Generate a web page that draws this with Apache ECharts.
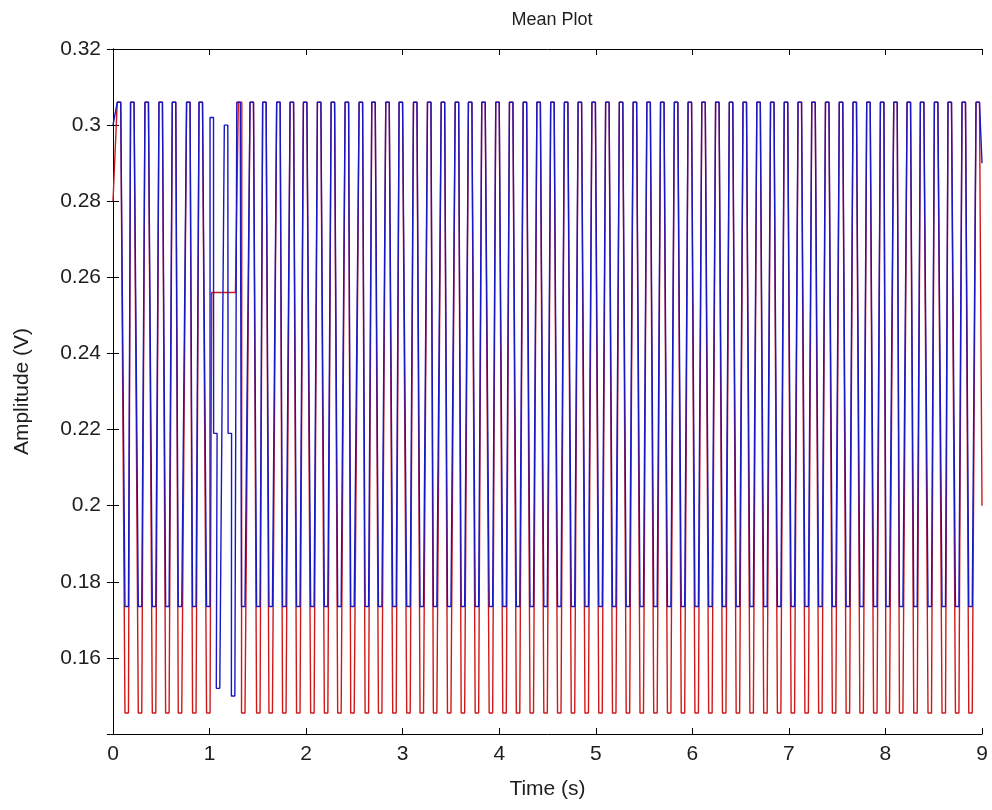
<!DOCTYPE html>
<html><head><meta charset="utf-8">
<script src="https://cdn.jsdelivr.net/npm/echarts@6/dist/echarts.min.js"></script>
<style>html,body{margin:0;padding:0;background:#fff}#c{width:992px;height:810px}</style>
</head><body><div id="c"></div>
<script>
// ---- data ----
const titleText = 'Mean Plot';
const xName = 'Time (s)';
const yName = 'Amplitude (V)';
const xTicks = [0, 1, 2, 3, 4, 5, 6, 7, 8, 9];
const yTicks = [0.16, 0.18, 0.2, 0.22, 0.24, 0.26, 0.28, 0.3, 0.32];

// blue trace: turning points (time, level), flat dwell around each
const blueT = [0.000, 0.062, 0.142, 0.200, 0.280, 0.349, 0.425, 0.494, 0.563, 0.632, 0.694, 0.780, 0.842, 0.909, 0.987,
  1.023, 1.060, 1.088, 1.171, 1.210, 1.244, 1.300, 1.349, 1.437, 1.505, 1.568, 1.633, 1.713, 1.774, 1.852, 1.919,
  1.990, 2.065, 2.135, 2.207, 2.277, 2.345, 2.422, 2.480, 2.567, 2.629, 2.698, 2.767, 2.843, 2.915, 2.981, 3.060,
  3.130, 3.198, 3.275, 3.336, 3.417, 3.482, 3.562, 3.624, 3.699, 3.769, 3.837, 3.914, 3.982, 4.055, 4.124,
  4.195, 4.266, 4.337, 4.408, 4.480, 4.551, 4.622, 4.693, 4.764, 4.835, 4.906, 4.978, 5.049, 5.120, 5.191, 5.262,
  5.333, 5.405, 5.476, 5.547, 5.618, 5.689, 5.760, 5.832, 5.903, 5.974, 6.045, 6.116, 6.187, 6.259, 6.330, 6.401,
  6.472, 6.543, 6.614, 6.686, 6.757, 6.828, 6.899, 6.970, 7.041, 7.113, 7.184, 7.255, 7.326, 7.397, 7.468, 7.540,
  7.611, 7.682, 7.753, 7.824, 7.895, 7.966, 8.024, 8.104, 8.163, 8.242, 8.311, 8.380, 8.459, 8.525, 8.604, 8.666,
  8.743, 8.811, 8.881, 8.956, 9.000];
const blueV = [0.300, 0.306, 0.1735, 0.306, 0.1735, 0.306, 0.1735, 0.306, 0.1735, 0.306, 0.1735, 0.306, 0.1735, 0.306, 0.1735,
  0.302, 0.219, 0.152, 0.300, 0.219, 0.150, 0.306, 0.1735, 0.306, 0.1735, 0.306, 0.1735, 0.306, 0.1735, 0.306, 0.1735,
  0.306, 0.1735, 0.306, 0.1735, 0.306, 0.1735, 0.306, 0.1735, 0.306, 0.1735, 0.306, 0.1735, 0.306, 0.1735, 0.306, 0.1735,
  0.306, 0.1735, 0.306, 0.1735, 0.306, 0.1735, 0.306, 0.1735, 0.306, 0.1735, 0.306, 0.1735, 0.306, 0.1735, 0.306,
  0.1735, 0.306, 0.1735, 0.306, 0.1735, 0.306, 0.1735, 0.306, 0.1735, 0.306, 0.1735, 0.306, 0.1735, 0.306, 0.1735, 0.306,
  0.1735, 0.306, 0.1735, 0.306, 0.1735, 0.306, 0.1735, 0.306, 0.1735, 0.306, 0.1735, 0.306, 0.1735, 0.306, 0.1735, 0.306,
  0.1735, 0.306, 0.1735, 0.306, 0.1735, 0.306, 0.1735, 0.306, 0.1735, 0.306, 0.1735, 0.306, 0.1735, 0.306, 0.1735, 0.306,
  0.1735, 0.306, 0.1735, 0.306, 0.1735, 0.306, 0.1735, 0.306, 0.1735, 0.306, 0.1735, 0.306, 0.1735, 0.306, 0.1735, 0.306,
  0.1735, 0.306, 0.1735, 0.306, 0.290];

// red trace: turning points
const redT = [0.000, 0.062, 0.142, 0.200, 0.280, 0.349, 0.425, 0.494, 0.563, 0.632, 0.694, 0.780, 0.842, 0.909, 0.987,
  1.040, 1.250, 1.316, 1.349, 1.437, 1.505, 1.568, 1.633, 1.713, 1.774, 1.852, 1.919,
  1.990, 2.065, 2.135, 2.207, 2.277, 2.345, 2.422, 2.480, 2.567, 2.629, 2.698, 2.767, 2.843, 2.915, 2.981, 3.060,
  3.130, 3.198, 3.275, 3.336, 3.417, 3.482, 3.562, 3.624, 3.699, 3.769, 3.837, 3.914, 3.982, 4.055, 4.124,
  4.195, 4.266, 4.337, 4.408, 4.480, 4.551, 4.622, 4.693, 4.764, 4.835, 4.906, 4.978, 5.049, 5.120, 5.191, 5.262,
  5.333, 5.405, 5.476, 5.547, 5.618, 5.689, 5.760, 5.832, 5.903, 5.974, 6.045, 6.116, 6.187, 6.259, 6.330, 6.401,
  6.472, 6.543, 6.614, 6.686, 6.757, 6.828, 6.899, 6.970, 7.041, 7.113, 7.184, 7.255, 7.326, 7.397, 7.468, 7.540,
  7.611, 7.682, 7.753, 7.824, 7.895, 7.966, 8.024, 8.104, 8.163, 8.242, 8.311, 8.380, 8.459, 8.525, 8.604, 8.666,
  8.743, 8.811, 8.881, 8.956, 9.000];
const redV = [0.280, 0.306, 0.1455, 0.306, 0.1455, 0.306, 0.1455, 0.306, 0.1455, 0.306, 0.1455, 0.306, 0.1455, 0.306, 0.1455,
  0.256, 0.256, 0.306, 0.1455, 0.306, 0.1455, 0.306, 0.1455, 0.306, 0.1455, 0.306, 0.1455,
  0.306, 0.1455, 0.306, 0.1455, 0.306, 0.1455, 0.306, 0.1455, 0.306, 0.1455, 0.306, 0.1455, 0.306, 0.1455, 0.306, 0.1455,
  0.306, 0.1455, 0.306, 0.1455, 0.306, 0.1455, 0.306, 0.1455, 0.306, 0.1455, 0.306, 0.1455, 0.306, 0.1455, 0.306,
  0.1455, 0.306, 0.1455, 0.306, 0.1455, 0.306, 0.1455, 0.306, 0.1455, 0.306, 0.1455, 0.306, 0.1455, 0.306, 0.1455, 0.306,
  0.1455, 0.306, 0.1455, 0.306, 0.1455, 0.306, 0.1455, 0.306, 0.1455, 0.306, 0.1455, 0.306, 0.1455, 0.306, 0.1455, 0.306,
  0.1455, 0.306, 0.1455, 0.306, 0.1455, 0.306, 0.1455, 0.306, 0.1455, 0.306, 0.1455, 0.306, 0.1455, 0.306, 0.1455, 0.306,
  0.1455, 0.306, 0.1455, 0.306, 0.1455, 0.306, 0.1455, 0.306, 0.1455, 0.306, 0.1455, 0.306, 0.1455, 0.306, 0.1455, 0.306,
  0.1455, 0.306, 0.1455, 0.306, 0.200];

// ---- build line data: each turning point is held for a short flat dwell ----
const DWELL = 0.018;
function build(ts, vs) {
  const out = [];
  for (let i = 0; i < ts.length; i++) {
    const t = ts[i], v = vs[i];
    if (i === 0 || i === ts.length - 1) { out.push([t, v]); continue; }
    out.push([t - DWELL, v]);
    out.push([t + DWELL, v]);
  }
  return out;
}

const FONT = 'Liberation Sans, Arial, sans-serif';
const TXT = '#1e1e1e';
const chart = echarts.init(document.getElementById('c'), null, {renderer: 'canvas'});
const axLine = {show: true, lineStyle: {color: '#000', width: 1}};
const common = {
  type: 'value', splitLine: {show: false}, axisLine: axLine,
  axisTick: {show: true, inside: true, length: 6, lineStyle: {color: '#000'}}
};
chart.setOption({
  animation: false,
  backgroundColor: '#fff',
  title: {
    text: titleText, left: 547, top: 6, textAlign: 'center',
    textStyle: {fontFamily: FONT, fontSize: 18, fontWeight: 'normal', color: TXT}
  },
  grid: {left: 113, right: 10, top: 49, bottom: 76},
  xAxis: [
    Object.assign({}, common, {
      min: xTicks[0], max: xTicks[xTicks.length - 1], interval: 1, position: 'bottom',
      name: xName, nameLocation: 'middle', nameGap: 45,
      nameTextStyle: {fontFamily: FONT, fontSize: 21, color: TXT},
      axisLabel: {fontFamily: FONT, fontSize: 21, color: TXT, margin: 10}
    }),
    Object.assign({}, common, {
      min: xTicks[0], max: xTicks[xTicks.length - 1], interval: 1, position: 'top',
      axisLabel: {show: false}
    })
  ],
  yAxis: [
    Object.assign({}, common, {
      min: 0.14, max: yTicks[yTicks.length - 1], interval: 0.02, position: 'left',
      name: yName, nameLocation: 'middle', nameGap: 80,
      nameTextStyle: {fontFamily: FONT, fontSize: 21, color: TXT},
      axisLabel: {fontFamily: FONT, fontSize: 21, color: TXT, margin: 12, showMinLabel: false,
        formatter: v => String(+v.toFixed(2))}
    }),
    Object.assign({}, common, {
      min: 0.14, max: yTicks[yTicks.length - 1], interval: 0.02, position: 'right',
      axisLabel: {show: false}
    })
  ],
  series: [
    {type: 'line', name: 'red', data: build(redT, redV), showSymbol: false, symbol: 'none',
      lineStyle: {color: '#d01818', width: 1.4}, xAxisIndex: 0, yAxisIndex: 0, z: 2},
    {type: 'line', name: 'blue', data: build(blueT, blueV), showSymbol: false, symbol: 'none',
      lineStyle: {color: '#1818c4', width: 1.4}, xAxisIndex: 0, yAxisIndex: 0, z: 3}
  ]
});
</script>
</body></html>
